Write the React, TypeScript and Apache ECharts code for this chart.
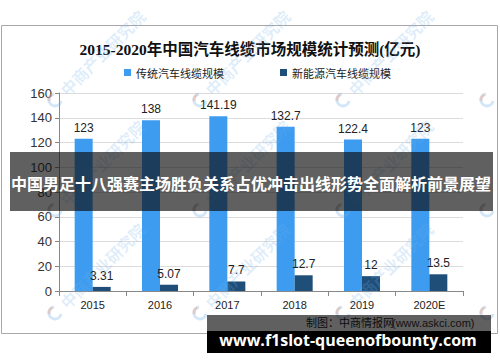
import React, { useEffect, useRef } from 'react';
import * as echarts from 'echarts';

const categories = ['2015', '2016', '2017', '2018', '2019', '2020E'];
const traditional = [123, 138, 141.19, 132.7, 122.4, 123];
const newEnergy = [3.31, 5.07, 7.7, 12.7, 12, 13.5];
const seriesNames = ['传统汽车线缆规模', '新能源汽车线缆规模'];
const yMin = 0;
const yMax = 160;
const yStep = 20;
const titleText = '2015-2020年中国汽车线缆市场规模统计预测(亿元)';
const bannerText = '中国男足十八强赛主场胜负关系占优冲击出线形势全面解析前景展望';
const sourceText = '制图：中商情报网';
const sourceUrl = '(www.askci.com)';
const siteText = 'www.f1slot-queenofbounty.com';
const watermarkText = '中商产业研究院';

const wmRows = [100, 210, 313];
const wmCols = [55, 200, 343];
const wmEdgeCol = 487;

export default function App() {
  const ref = useRef<HTMLDivElement>(null);
  useEffect(() => {
    const chart = echarts.init(ref.current!, null, { renderer: 'svg' });
    const logo = (x: number, y: number) => [
      {
        type: 'arc',
        z: 50,
        x,
        y,
        rotation: Math.PI / 4,
        shape: { cx: 0, cy: 0, r: 6, startAngle: Math.PI * 0.3, endAngle: Math.PI * 1.7 },
        style: { stroke: 'rgba(110,175,235,0.3)', lineWidth: 3, fill: 'none' },
      },
      {
        type: 'arc',
        z: 50,
        x,
        y,
        rotation: Math.PI / 4,
        shape: { cx: 0, cy: 0, r: 6, startAngle: Math.PI * 1.2, endAngle: Math.PI * 1.6 },
        style: { stroke: 'rgba(240,140,100,0.3)', lineWidth: 3, fill: 'none' },
      },
    ];
    const watermarks: any[] = [];
    wmRows.forEach((y) => {
      wmCols.forEach((x) => {
        watermarks.push(...logo(x, y));
        watermarks.push({
          type: 'text',
          z: 50,
          x,
          y,
          rotation: Math.PI / 4,
          style: {
            text: watermarkText,
            x: 11,
            y: 0,
            fill: 'rgba(110,175,235,0.22)',
            font: 'bold 16px "Noto Sans CJK SC"',
            textAlign: 'left',
            textVerticalAlign: 'middle',
          },
        });
      });
      watermarks.push(...logo(wmEdgeCol, y));
    });

    const option: any = {
      animation: false,
      backgroundColor: '#fff',
      title: {
        text: titleText,
        left: 'center',
        top: 42,
        padding: 0,
        textStyle: {
          fontSize: 15.5,
          fontWeight: 'bold',
          color: '#111',
          fontFamily: '"Liberation Serif", "Noto Sans CJK SC"',
        },
      },
      legend: {
        data: seriesNames,
        left: 124,
        top: 67,
        padding: 0,
        icon: 'rect',
        itemWidth: 7,
        itemHeight: 7,
        itemGap: 56,
        textStyle: { fontSize: 11, color: '#222', fontFamily: '"Noto Sans CJK SC"' },
      },
      grid: { left: 59, right: 37, top: 93, bottom: 71, containLabel: false },
      xAxis: {
        type: 'category',
        data: categories,
        axisLine: { lineStyle: { color: '#888' } },
        axisTick: { show: true, length: 5, lineStyle: { color: '#888' } },
        axisLabel: { fontSize: 11, color: '#222', margin: 8, fontFamily: '"Liberation Sans"' },
      },
      yAxis: {
        type: 'value',
        min: yMin,
        max: yMax,
        interval: yStep,
        axisLine: { show: true, lineStyle: { color: '#888' } },
        axisTick: { show: true, length: 4, lineStyle: { color: '#888' } },
        axisLabel: { fontSize: 13, color: '#333', margin: 7, fontFamily: '"Liberation Sans"' },
        splitLine: { lineStyle: { color: '#dcdcdc' } },
      },
      series: [
        {
          name: seriesNames[0],
          type: 'bar',
          data: traditional,
          barWidth: 18,
          barGap: '0%',
          itemStyle: { color: '#3d9cf0' },
          label: {
            show: true,
            position: 'top',
            distance: 5,
            fontSize: 12,
            color: '#222',
            fontFamily: '"Liberation Sans"',
          },
        },
        {
          name: seriesNames[1],
          type: 'bar',
          data: newEnergy,
          barWidth: 18,
          itemStyle: { color: '#1f4e79' },
          label: {
            show: true,
            position: 'top',
            distance: 5,
            fontSize: 12,
            color: '#222',
            fontFamily: '"Liberation Sans"',
          },
        },
      ],
      graphic: [
        {
          type: 'rect',
          z: 0,
          shape: { x: 1.5, y: 25.5, width: 496, height: 308 },
          style: { fill: 'none', stroke: '#a8a8a8', lineWidth: 1 },
        },
        ...watermarks,
        {
          type: 'text',
          z: 90,
          x: 306,
          y: 322,
          style: {
            text: sourceText,
            fill: '#111',
            font: '11px "Noto Sans CJK SC"',
            textAlign: 'left',
            textVerticalAlign: 'middle',
          },
        },
        {
          type: 'text',
          z: 90,
          x: 392,
          y: 323,
          style: {
            text: sourceUrl,
            fill: '#222',
            font: '11px "Liberation Sans"',
            textAlign: 'left',
            textVerticalAlign: 'middle',
          },
        },
        {
          type: 'rect',
          z: 100,
          shape: { x: 10, y: 152, width: 483, height: 59 },
          style: { fill: 'rgba(10,10,10,0.65)' },
        },
        {
          type: 'text',
          z: 101,
          x: 251,
          y: 183,
          style: {
            text: bannerText,
            fill: '#fff',
            font: 'bold 16px "Noto Sans CJK SC"',
            textAlign: 'center',
            textVerticalAlign: 'middle',
          },
        },
        {
          type: 'rect',
          z: 100,
          shape: { x: 207, y: 315, width: 284, height: 16 },
          style: { fill: 'rgba(10,10,10,0.65)' },
        },
        {
          type: 'rect',
          z: 100,
          shape: { x: 207, y: 331, width: 284, height: 22 },
          style: { fill: '#000' },
        },
        {
          type: 'text',
          z: 101,
          x: 348,
          y: 340,
          style: {
            text: siteText,
            fill: '#fff',
            font: 'bold 16px "Open Sans"',
            textAlign: 'center',
            textVerticalAlign: 'middle',
          },
        },
      ],
    };
    chart.setOption(option);
    return () => chart.dispose();
  }, []);
  return (
    <div
      ref={ref}
      style={{ position: 'absolute', left: 0, top: 0, width: 500, height: 362, background: '#fff' }}
    />
  );
}
